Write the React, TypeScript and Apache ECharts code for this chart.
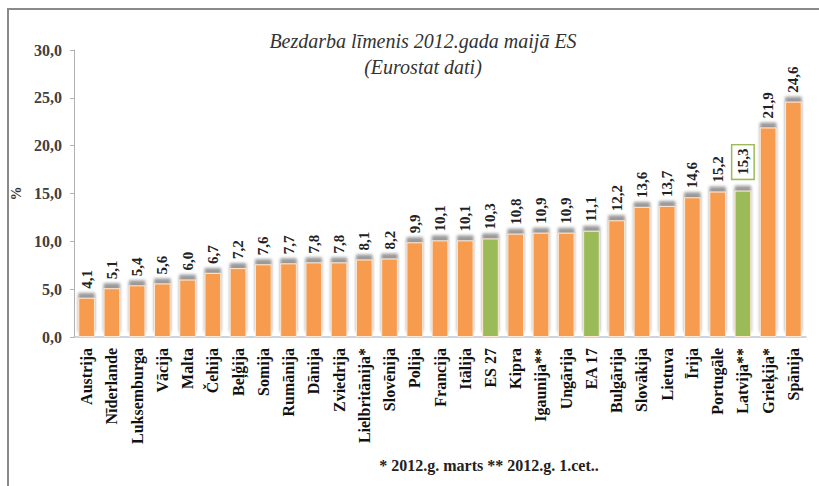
import React, { useEffect, useRef } from "react";
import * as echarts from "echarts";

const categories = [
  "Austrija", "Nīderlande", "Luksemburga", "Vācija", "Malta", "Čehija", "Beļģija",
  "Somija", "Rumānija", "Dānija", "Zviedrija", "Lielbritānija*", "Slovēnija", "Polija",
  "Francija", "Itālija", "ES 27", "Kipra", "Igaunija**", "Ungārija", "EA 17",
  "Bulgārija", "Slovākija", "Lietuva", "Īrija", "Portugāle", "Latvija**", "Grieķija*", "Spānija",
];
const values = [
  4.1, 5.1, 5.4, 5.6, 6.0, 6.7, 7.2, 7.6, 7.7, 7.8, 7.8, 8.1, 8.2, 9.9, 10.1, 10.1, 10.3,
  10.8, 10.9, 10.9, 11.1, 12.2, 13.6, 13.7, 14.6, 15.2, 15.3, 21.9, 24.6,
];
const greenCategories = ["ES 27", "EA 17", "Latvija**"];
const boxedCategory = "Latvija**";
const titleText = "Bezdarba līmenis 2012.gada maijā ES";
const subtitleText = "(Eurostat dati)";
const footnote = "* 2012.g. marts ** 2012.g. 1.cet..";

const ORANGE = "#F79C50";
const GREEN = "#9BBB59";
const SERIF = "Liberation Serif";
const fmt = (v: number) => v.toFixed(1).replace(".", ",");

export default function App() {
  const ref = useRef<HTMLDivElement>(null);
  useEffect(() => {
    if (!ref.current) return;
    const chart = echarts.init(ref.current, undefined, { renderer: "svg" });
    const data = values.map((v, i) => {
      const cat = categories[i];
      const isGreen = greenCategories.includes(cat);
      const item: any = {
        value: v,
        itemStyle: { color: isGreen ? GREEN : ORANGE },
      };
      if (cat === boxedCategory) {
        item.label = {
          borderColor: GREEN,
          borderWidth: 1.5,
          backgroundColor: "#fff",
          padding: [4, 3, 2, 4],
          distance: 12,
        };
      }
      return item;
    });
    chart.setOption({
      animation: false,
      backgroundColor: "#ffffff",
      textStyle: { fontFamily: SERIF },
      title: {
        text: titleText,
        subtext: subtitleText,
        left: 418,
        textAlign: "center",
        top: 26,
        itemGap: 6,
        textStyle: { fontFamily: SERIF, fontStyle: "italic", fontWeight: "normal", fontSize: 20, color: "#333" },
        subtextStyle: { fontFamily: SERIF, fontStyle: "italic", fontSize: 20, color: "#333" },
      },
      grid: { left: 74, right: 13, top: 50, bottom: 149 },
      xAxis: {
        type: "category",
        data: categories,
        axisLine: { lineStyle: { color: "#b8c7da", width: 1.5 } },
        axisTick: { show: false },
        axisLabel: {
          rotate: 90,
          interval: 0,
          fontFamily: SERIF,
          fontWeight: "bold",
          fontSize: 16,
          color: "#111",
          margin: 11,
        },
      },
      yAxis: {
        type: "value",
        min: 0,
        max: 30,
        interval: 5,
        name: "%",
        nameLocation: "middle",
        nameRotate: 90,
        nameGap: 50,
        nameTextStyle: { fontFamily: SERIF, fontWeight: "bold", fontSize: 14, color: "#333" },
        splitLine: { show: false },
        axisLine: { show: true, lineStyle: { color: "#b0b0b0" } },
        axisTick: { show: true, length: 4, lineStyle: { color: "#b0b0b0" } },
        axisLabel: {
          formatter: (v: number) => fmt(v),
          fontFamily: SERIF,
          fontWeight: "bold",
          fontSize: 16,
          color: "#404040",
          margin: 12,
        },
      },
      series: [
        {
          type: "bar",
          data,
          barWidth: "66%",
          itemStyle: {
            borderColor: "#fde6d2",
            borderWidth: 1,
            shadowColor: "rgba(110,110,110,0.7)",
            shadowBlur: 3,
            shadowOffsetY: -5,
          },
          label: {
            show: true,
            position: "top",
            rotate: 90,
            align: "left",
            verticalAlign: "middle",
            distance: 9,
            formatter: (p: any) => fmt(p.value),
            fontFamily: SERIF,
            fontWeight: "bold",
            fontSize: 15,
            color: "#222",
          },
        },
      ],
      graphic: [
        {
          type: "rect",
          shape: { x: 8, y: 9, width: 840, height: 500 },
          style: { fill: "none", stroke: "#8a8a8a", lineWidth: 2 },
          silent: true,
        },
        {
          type: "text",
          x: 489,
          y: 465,
          style: {
            text: footnote,
            fontFamily: SERIF,
            fontWeight: "bold",
            fontSize: 16,
            fill: "#222",
            textAlign: "center",
            textVerticalAlign: "middle",
          },
        },
      ],
    });
    return () => chart.dispose();
  }, []);
  return (
    <div
      ref={ref}
      style={{ position: "absolute", left: 0, top: 0, width: 819, height: 486 }}
    />
  );
}
